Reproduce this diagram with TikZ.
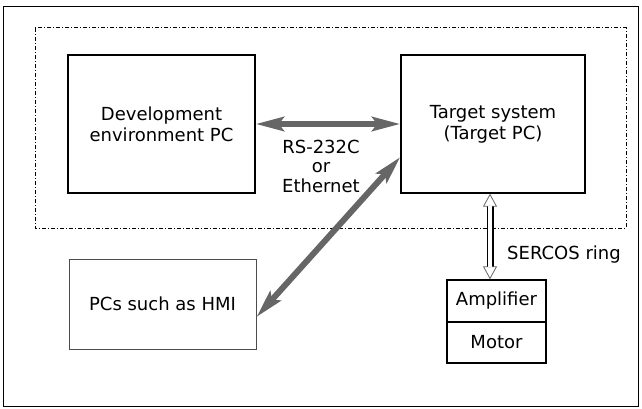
\documentclass[tikz,border=0pt]{standalone}
\usepackage{fontspec}
\setmainfont{DejaVu Sans}
\usetikzlibrary{arrows.meta}
\begin{document}
\begin{tikzpicture}[x=1pt,y=-1pt,
  box/.style={draw=black, line width=1.3pt, align=center, inner sep=0pt,
    font=\fontsize{18}{21}\selectfont},
  lbl/.style={align=center, inner sep=0pt, font=\fontsize{18}{19.5}\selectfont},
  hatch/.style={line width=6pt, draw=black!60,
    {Stealth[length=28pt,width=14pt,inset=5pt]}-{Stealth[length=28pt,width=14pt,inset=5pt]}},
  sercos/.style={draw=white, line width=0.8pt,
    {Triangle[open,length=13pt,width=14pt,color=black!60]}-{Triangle[open,length=13pt,width=14pt,color=black!60]},
    preaction={draw=black, line width=7pt, shorten <=12.5pt, shorten >=12.5pt, arrows=-},
    postaction={draw=white, line width=4.4pt, shorten <=12pt, shorten >=12pt, arrows=-}},
  dashframe/.style={draw=black, line width=1pt, dash pattern=on 4pt off 2pt on 1pt off 2pt}
]
\useasboundingbox (0,0) rectangle (642,409);
\draw[black, line width=0.8pt] (3,6) rectangle (638,406);
\draw[dashframe] (35,28) rectangle (626,228);

\node[box, minimum width=187pt, minimum height=138pt] (dev) at (161.5,124) {Development\\environment PC};
\node[box, minimum width=184pt, minimum height=138pt] (tgt) at (493,124) {Target system\\(Target PC)};
\node[box, draw=black!70, line width=1pt, minimum width=187pt, minimum height=90pt] (pcs) at (162.5,304) {PCs such as HMI};
\node[box, minimum width=99pt, minimum height=42pt] (amp) at (496.5,301) {Amplifier};
\node[box, minimum width=99pt, minimum height=41pt] (mot) at (496.5,342.5) {Motor};

\node[lbl] (rs) at (321,166) {RS-232C\\or\\Ethernet};
\node[lbl, anchor=west] (ser) at (507,255) {SERCOS ring};

\draw[hatch] (dev.east) -- (tgt.west);
\draw[hatch] ([yshift=-13pt]pcs.east) -- ([yshift=-33pt]tgt.west);
\draw[sercos] ([xshift=-3pt]tgt.south) -- ([xshift=-6.5pt]amp.north);
\end{tikzpicture}
\end{document}
